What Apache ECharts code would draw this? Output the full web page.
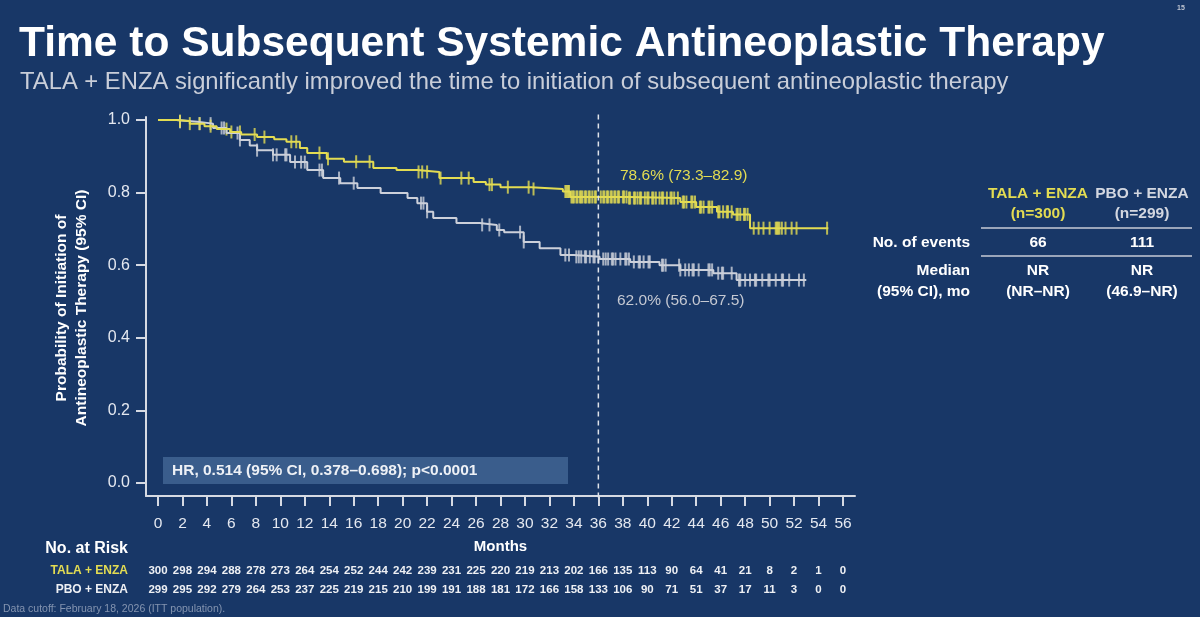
<!DOCTYPE html>
<html>
<head>
<meta charset="utf-8">
<script src="https://cdn.jsdelivr.net/npm/echarts@6/dist/echarts.min.js"></script>
<style>
html, body { margin: 0; padding: 0; background: #183767; }
#chart { width: 1200px; height: 617px; }
</style>
</head>
<body>
<div id="chart"></div>
<script>
// Kaplan-Meier step points (month, probability)
const talaTimes = [0, 1.5, 2.6, 3.8, 4.8, 5.9, 6.8, 8.1, 9.5, 10.5, 11.6, 12.2, 13.8, 15.2, 17.6, 19.5, 21.2, 23, 25.8, 26.8, 28, 30.5, 33.1, 33.7, 38.5, 42.7, 44, 45.7, 47, 48.4, 54.8];
const talaSurv  = [1.0, 0.997, 0.99, 0.983, 0.975, 0.967, 0.96, 0.953, 0.947, 0.94, 0.923, 0.909, 0.893, 0.885, 0.868, 0.862, 0.857, 0.84, 0.829, 0.822, 0.815, 0.81, 0.803, 0.788, 0.785, 0.774, 0.76, 0.747, 0.74, 0.702, 0.702];
const talaCensor = [1.8, 2.6, 3.4, 4.3, 5.6, 6.0, 6.7, 7.9, 8.7, 10.9, 11.3, 13.2, 13.9, 16.2, 17.3, 21.3, 21.6, 22.0, 23.1, 24.8, 25.4, 27.1, 27.3, 28.6, 30.3, 30.7,
  33.3, 33.4, 33.5, 33.6, 33.8, 33.9, 34.0, 34.2, 34.3, 34.5, 34.6, 34.7, 34.9, 35.0, 35.2, 35.3, 35.5, 35.7, 35.8, 36.2, 36.4, 36.5, 36.7, 36.8, 37.0,
  37.1, 37.3, 37.4, 37.6, 37.7, 38.0, 38.1, 38.3, 38.5, 38.6, 38.9, 39.0, 39.2, 39.4, 39.5, 39.8, 40.0, 40.1, 40.4, 40.5, 40.7, 41.0, 41.2, 41.3,
  41.6, 41.9, 42.0, 42.2, 42.5, 42.9, 43.0, 43.2, 43.6, 43.7, 43.9, 44.3, 44.4, 44.6, 45.0, 45.1, 45.3, 45.8, 45.9, 46.2, 46.5, 46.6, 46.9, 47.3,
  47.4, 47.6, 47.9, 48.0, 48.2, 48.7, 49.1, 49.5, 50.0, 50.5, 50.6, 50.7, 50.8, 51.0, 51.3, 51.8, 52.2, 54.7];

const pboTimes = [0, 1.5, 3.2, 4.5, 5.6, 6.7, 7.5, 8.1, 9.4, 10.8, 12.2, 13.5, 14.9, 16.3, 18.2, 20.4, 21.2, 22, 22.5, 24.4, 26.3, 27.7, 28.3, 29.9, 31.2, 32.9, 34, 36.1, 38.6, 41, 42.7, 45.4, 47.3, 53.0];
const pboSurv  = [1.0, 0.995, 0.99, 0.978, 0.964, 0.945, 0.93, 0.917, 0.904, 0.884, 0.862, 0.84, 0.826, 0.813, 0.799, 0.785, 0.771, 0.747, 0.73, 0.716, 0.711, 0.697, 0.691, 0.664, 0.647, 0.628, 0.623, 0.617, 0.609, 0.6, 0.587, 0.578, 0.559, 0.559];
const pboCensor = [1.8, 3.4, 4.3, 5.2, 5.4, 6.5, 6.7, 8.1, 9.4, 9.7, 10.4, 10.5, 11.2, 11.7, 12.0, 13.2, 13.4, 14.8, 16.0, 21.5, 21.7, 22.0, 26.5, 27.1, 27.9, 29.6, 29.9,
  33.3, 33.6, 34.2, 34.4, 34.6, 34.9, 35.0, 35.3, 35.6, 35.7, 36.0, 36.4, 36.6, 36.8, 37.1, 37.2, 37.4, 37.8, 38.2, 38.3, 38.5, 38.9, 39.3, 39.4,
  39.7, 40.1, 40.2, 41.2, 41.3, 41.5, 42.6, 42.7, 43.1, 43.4, 43.7, 43.8, 44.2, 45.0, 45.1, 45.3, 45.8, 46.1, 46.2, 46.9, 47.5, 47.6, 48.0, 48.4,
  48.8, 48.9, 49.4, 49.9, 50.0, 50.5, 51.0, 51.1, 51.6, 52.4, 52.8];

// numbers at risk under each x tick (0, 2, ... 56)
const talaAtRisk = [300, 298, 294, 288, 278, 273, 264, 254, 252, 244, 242, 239, 231, 225, 220, 219, 213, 202, 166, 135, 113, 90, 64, 41, 21, 8, 2, 1, 0];
const pboAtRisk  = [299, 295, 292, 279, 264, 253, 237, 225, 219, 215, 210, 199, 191, 188, 181, 172, 166, 158, 133, 106, 90, 71, 51, 37, 17, 11, 3, 0, 0];

const landmarkMonth = 36;

const YELLOW = '#e3dc52';
const GREY = '#ccd0da';
const AXIS = '#d6dae3';
const FONT = 'Liberation Sans, Arial, sans-serif';

function stepData(times, surv) {
  return times.map((t, i) => [t, surv[i]]);
}
function survAt(times, surv, t) {
  let v = surv[0];
  for (let i = 0; i < times.length; i++) {
    if (times[i] <= t) v = surv[i];
  }
  return v;
}
function censorData(cens, times, surv) {
  return cens.map(t => [t, survAt(times, surv, t)]);
}

const chart = echarts.init(document.getElementById('chart'));

const monthAxis = { type: 'value', position: 'bottom', min: 0, max: 56, interval: 2 };
const probAxis = { type: 'value', position: 'left', min: 0, max: 1, interval: 0.2 };
const noLine = { axisLine: { show: false }, splitLine: { show: false } };

const option = {
  backgroundColor: '#183767',
  animation: false,
  textStyle: { fontFamily: FONT },
  grid: [
    // 0: data area
    { left: 158, right: 357, top: 120, bottom: 134 },
    // 1: frame (axis lines sit a little outside the data area)
    { left: 146, right: 345, top: 117, bottom: 121 },
    // 2: month ticks hanging from the frame's bottom line
    { left: 158, right: 357, top: 120, bottom: 121 },
    // 3: probability ticks hanging from the frame's left line
    { left: 146, right: 357, top: 120, bottom: 134 }
  ],
  xAxis: [
    Object.assign({ gridIndex: 0, show: false }, monthAxis),
    { gridIndex: 1, type: 'value', position: 'bottom', min: 0, max: 1,
      axisLine: { show: true, lineStyle: { color: AXIS, width: 2 } },
      axisTick: { show: false }, axisLabel: { show: false }, splitLine: { show: false } },
    Object.assign({
      gridIndex: 2,
      axisTick: { show: true, length: 10, lineStyle: { color: AXIS, width: 2 } },
      axisLabel: { margin: 20, color: '#e4e8f0', fontSize: 15.5, fontFamily: FONT },
      name: 'Months', nameLocation: 'middle', nameGap: 43,
      nameTextStyle: { color: '#ffffff', fontSize: 15, fontWeight: 'bold', fontFamily: FONT }
    }, monthAxis, noLine),
    Object.assign({
      gridIndex: 2, axisTick: { show: false },
      axisLabel: { margin: 69, color: '#eef0f4', fontSize: 11.5, fontWeight: 'bold', fontFamily: FONT,
        formatter: v => talaAtRisk[Math.round(v / 2)] }
    }, monthAxis, noLine),
    Object.assign({
      gridIndex: 2, axisTick: { show: false },
      axisLabel: { margin: 88, color: '#eef0f4', fontSize: 11.5, fontWeight: 'bold', fontFamily: FONT,
        formatter: v => pboAtRisk[Math.round(v / 2)] }
    }, monthAxis, noLine),
    Object.assign({ gridIndex: 3, show: false }, monthAxis)
  ],
  yAxis: [
    Object.assign({ gridIndex: 0, show: false }, probAxis),
    { gridIndex: 1, type: 'value', position: 'left', min: 0, max: 1,
      axisLine: { show: true, lineStyle: { color: AXIS, width: 2 } },
      axisTick: { show: false }, axisLabel: { show: false }, splitLine: { show: false } },
    Object.assign({ gridIndex: 2, show: false }, probAxis),
    Object.assign({
      gridIndex: 3,
      axisTick: { show: true, length: 10, lineStyle: { color: AXIS, width: 2 } },
      axisLabel: { margin: 16, color: '#e4e8f0', fontSize: 16, fontFamily: FONT, formatter: v => v.toFixed(1) }
    }, probAxis, noLine)
  ],
  series: [
    {
      name: 'PBO + ENZA', type: 'line', step: 'end', symbol: 'none',
      data: stepData(pboTimes, pboSurv),
      lineStyle: { color: GREY, width: 2 }
    },
    {
      type: 'scatter', symbol: 'rect', symbolSize: [2, 13],
      data: censorData(pboCensor, pboTimes, pboSurv),
      itemStyle: { color: GREY }
    },
    {
      name: 'TALA + ENZA', type: 'line', step: 'end', symbol: 'none',
      data: stepData(talaTimes, talaSurv),
      lineStyle: { color: YELLOW, width: 2 }
    },
    {
      type: 'scatter', symbol: 'rect', symbolSize: [2, 13],
      data: censorData(talaCensor, talaTimes, talaSurv),
      itemStyle: { color: YELLOW }
    },
    {
      type: 'line', symbol: 'none', clip: false, silent: true,
      data: [[landmarkMonth, -0.04], [landmarkMonth, 1.02]],
      lineStyle: { color: '#dfe3ea', width: 1.5, type: [5, 4] }
    }
  ],
  graphic: [
    { type: 'text', x: 19, y: 44, style: { text: 'Time to Subsequent Systemic Antineoplastic Therapy',
      fill: '#ffffff', font: 'bold 42.5px ' + FONT, verticalAlign: 'middle' } },
    { type: 'text', x: 20, y: 82, style: { text: 'TALA + ENZA significantly improved the time to initiation of subsequent antineoplastic therapy',
      fill: '#c9ced9', font: '23.8px ' + FONT, verticalAlign: 'middle' } },
    { type: 'text', x: 1177, y: 5, style: { text: '15', fill: '#c0c6d2', font: 'bold 7px ' + FONT } },

    // y axis title
    { type: 'text', x: 72, y: 308, rotation: Math.PI / 2,
      style: { text: 'Probability of Initiation of\nAntineoplastic Therapy (95% CI)', fill: '#ffffff',
        font: 'bold 15.5px ' + FONT, align: 'center', verticalAlign: 'middle', lineHeight: 20 } },

    // landmark annotations
    { type: 'text', x: 620, y: 176, style: { text: '78.6% (73.3–82.9)', fill: YELLOW, font: '15.5px ' + FONT, verticalAlign: 'middle' } },
    { type: 'text', x: 617, y: 301, style: { text: '62.0% (56.0–67.5)', fill: '#c4c8d2', font: '15.5px ' + FONT, verticalAlign: 'middle' } },

    // HR box
    { type: 'rect', shape: { x: 163, y: 457, width: 405, height: 27 }, style: { fill: '#3a5d8c' } },
    { type: 'text', x: 172, y: 471, style: { text: 'HR, 0.514 (95% CI, 0.378–0.698); p<0.0001', fill: '#eef1f6',
      font: 'bold 15.5px ' + FONT, verticalAlign: 'middle' } },

    // right table
    { type: 'text', x: 1038, y: 204, style: { text: 'TALA + ENZA\n(n=300)', fill: YELLOW, font: 'bold 15.5px ' + FONT,
      align: 'center', verticalAlign: 'middle', lineHeight: 20 } },
    { type: 'text', x: 1142, y: 204, style: { text: 'PBO + ENZA\n(n=299)', fill: '#d3d7e0', font: 'bold 15.5px ' + FONT,
      align: 'center', verticalAlign: 'middle', lineHeight: 20 } },
    { type: 'line', shape: { x1: 981, y1: 228, x2: 1192, y2: 228 }, style: { stroke: '#c6cbd6', lineWidth: 1.5 } },
    { type: 'text', x: 970, y: 243, style: { text: 'No. of events', fill: '#ffffff', font: 'bold 15.5px ' + FONT, align: 'right', verticalAlign: 'middle' } },
    { type: 'text', x: 1038, y: 243, style: { text: '66', fill: '#ffffff', font: 'bold 15.5px ' + FONT, align: 'center', verticalAlign: 'middle' } },
    { type: 'text', x: 1142, y: 243, style: { text: '111', fill: '#ffffff', font: 'bold 15.5px ' + FONT, align: 'center', verticalAlign: 'middle' } },
    { type: 'line', shape: { x1: 981, y1: 256, x2: 1192, y2: 256 }, style: { stroke: '#c6cbd6', lineWidth: 1.5 } },
    { type: 'text', x: 970, y: 281, style: { text: 'Median\n(95% CI), mo', fill: '#ffffff', font: 'bold 15.5px ' + FONT,
      align: 'right', verticalAlign: 'middle', lineHeight: 21 } },
    { type: 'text', x: 1038, y: 281, style: { text: 'NR\n(NR–NR)', fill: '#ffffff', font: 'bold 15.5px ' + FONT,
      align: 'center', verticalAlign: 'middle', lineHeight: 21 } },
    { type: 'text', x: 1142, y: 281, style: { text: 'NR\n(46.9–NR)', fill: '#ffffff', font: 'bold 15.5px ' + FONT,
      align: 'center', verticalAlign: 'middle', lineHeight: 21 } },

    // at-risk labels
    { type: 'text', x: 128, y: 549, style: { text: 'No. at Risk', fill: '#ffffff', font: 'bold 16px ' + FONT, align: 'right', verticalAlign: 'middle' } },
    { type: 'text', x: 128, y: 571, style: { text: 'TALA + ENZA', fill: YELLOW, font: 'bold 12px ' + FONT, align: 'right', verticalAlign: 'middle' } },
    { type: 'text', x: 128, y: 590, style: { text: 'PBO + ENZA', fill: '#eef0f4', font: 'bold 12px ' + FONT, align: 'right', verticalAlign: 'middle' } },
    { type: 'text', x: 3, y: 609, style: { text: 'Data cutoff: February 18, 2026 (ITT population).', fill: '#8494b0', font: '10.5px ' + FONT, verticalAlign: 'middle' } }
  ]
};

chart.setOption(option);
</script>
</body>
</html>
